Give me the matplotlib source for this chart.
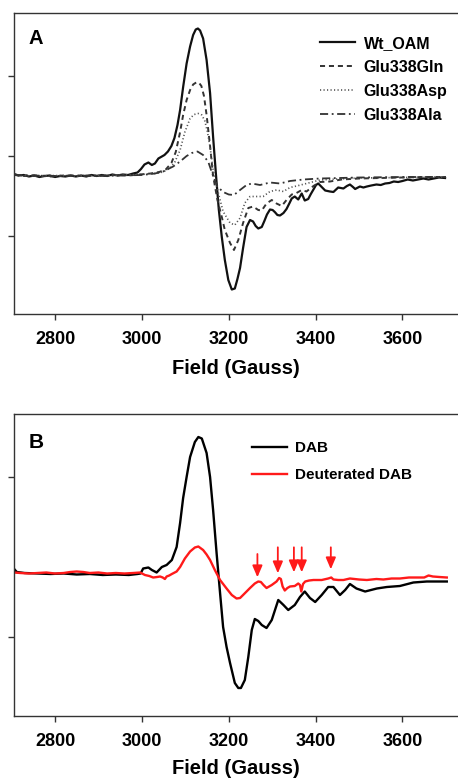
import numpy as np
import matplotlib
matplotlib.use("Agg")
import matplotlib.pyplot as plt

plt.rcParams['font.family'] = ['Liberation Sans', 'DejaVu Sans']
plt.rcParams['font.weight'] = 'bold'

# ---- panel A: (field in G, intensity in a.u.) ----
wt_oam = np.array([
    (2706, 2), (2716, 0.5), (2728, 1), (2740, -0.5), (2752, 0.5), (2764, -1), (2776, 0),
    (2788, 0.5), (2800, -1), (2812, 0), (2824, -0.5), (2836, 0.5), (2848, -0.5), (2860, 0.5),
    (2872, -0.5), (2884, 1), (2896, 0), (2908, 1), (2920, 0), (2932, 1.5), (2944, 0.5),
    (2956, 1.5), (2968, 1), (2980, 2.5), (2990, 3.5), (2998, 7), (3006, 11.5), (3015, 13.5),
    (3023, 11), (3030, 12.5), (3038, 17.5), (3046, 19.5), (3052, 21), (3060, 24.5), (3068, 30),
    (3075, 38), (3082, 51), (3088, 66), (3095, 89), (3103, 112.5), (3111, 129.5), (3118, 141),
    (3124, 146.5), (3129, 147.5), (3134, 145.5), (3141, 137.5), (3149, 116), (3157, 83),
    (3164, 39), (3171, -1), (3177, -33), (3184, -61), (3191, -84), (3199, -104), (3207, -113.5),
    (3214, -112.5), (3220, -103), (3226, -92), (3233, -72), (3241, -51), (3249, -44),
    (3256, -45.5), (3262, -50), (3268, -52.5), (3276, -51), (3282, -45), (3288, -38.5),
    (3295, -33.5), (3301, -34), (3306, -36), (3312, -39), (3318, -39.5), (3326, -37),
    (3333, -33), (3340, -27), (3345, -22.5), (3352, -20.5), (3360, -23.5), (3368, -17.5),
    (3375, -24.5), (3383, -23), (3389, -18), (3395, -13.5), (3401, -9), (3406, -7.5),
    (3414, -11), (3422, -14.5), (3433, -15.5), (3441, -16), (3452, -11.5), (3464, -12.5),
    (3472, -10), (3479, -8.5), (3486, -11), (3491, -13), (3502, -10.5), (3510, -11.5),
    (3518, -10.5), (3528, -9.5), (3540, -8.5), (3550, -9), (3560, -7.5), (3570, -7),
    (3580, -5.5), (3590, -6), (3600, -5), (3612, -3.5), (3624, -4.5), (3636, -3.5),
    (3648, -2.5), (3660, -3.5), (3672, -2.5), (3684, -1.5), (3698, -2)])

glu338gln = np.array([
    (2706, 1), (2730, 0), (2760, 0.5), (2790, -0.5), (2820, 0.5), (2850, 0), (2880, 0.5),
    (2910, 0), (2940, 1), (2970, 0.5), (2995, 1.5), (3020, 2.5), (3040, 4), (3055, 6.5),
    (3068, 13), (3078, 24), (3088, 44), (3095, 61), (3103, 76), (3111, 86), (3118, 91.5),
    (3125, 93.5), (3131, 93.5), (3137, 90), (3143, 80), (3149, 61), (3157, 30), (3164, 0),
    (3174, -24), (3184, -41), (3191, -54), (3203, -67), (3212, -74), (3222, -64), (3233, -47),
    (3245, -32), (3256, -30.5), (3268, -34), (3276, -34.5), (3287, -27.5), (3299, -24),
    (3310, -27.5), (3322, -30), (3333, -24), (3345, -18.5), (3356, -17), (3368, -14),
    (3379, -15.5), (3395, -10), (3410, -6), (3433, -5.5), (3460, -3.5), (3500, -2.5),
    (3550, -2), (3600, -1.5), (3650, -1), (3700, -1)])

glu338asp = np.array([
    (2706, 1), (2750, 0), (2800, 0.5), (2850, 0), (2900, 0.5), (2950, 1), (2995, 1.5),
    (3030, 2.5), (3049, 4), (3065, 8), (3076, 14), (3088, 26), (3099, 44), (3111, 57.5),
    (3120, 61.5), (3130, 62.5), (3138, 61), (3145, 55), (3151, 44), (3157, 29), (3164, 6),
    (3176, -17), (3187, -35.5), (3203, -47), (3214, -49), (3226, -42), (3237, -27),
    (3249, -20.5), (3264, -20.5), (3279, -20.5), (3295, -15.5), (3310, -14), (3326, -15.5),
    (3341, -11.5), (3356, -10), (3379, -7.5), (3410, -4), (3450, -3), (3500, -2),
    (3600, -1.5), (3700, -1)])

glu338ala = np.array([
    (2706, 1), (2750, 0.5), (2800, 0), (2850, 0.5), (2900, 0), (2950, 0.5), (3000, 1),
    (3030, 2.5), (3049, 4.5), (3072, 9.5), (3088, 14.5), (3103, 20), (3115, 23), (3128, 24.5),
    (3141, 21), (3153, 14), (3164, 0), (3174, -10.5), (3187, -16), (3200, -18.5), (3212, -19),
    (3226, -14), (3241, -9), (3253, -7.5), (3272, -9), (3295, -6.5), (3318, -7.5), (3341, -5),
    (3372, -3.5), (3410, -2.5), (3500, -1.5), (3600, -1), (3700, -1)])

# ---- panel B ----
dab = np.array([
    (2706, 4), (2712, 1), (2730, 0), (2760, -0.5), (2790, -1), (2820, -0.5), (2850, -1.5),
    (2880, -1), (2910, -2), (2940, -1.5), (2970, -2), (2990, -1), (2997, -0.5), (3003, 4.5),
    (3015, 5.5), (3023, 3), (3034, 0.5), (3046, 6), (3057, 8), (3069, 13), (3080, 26),
    (3088, 50), (3095, 75), (3103, 96), (3111, 116), (3122, 131), (3130, 136), (3138, 134.5),
    (3149, 120), (3157, 96), (3164, 63), (3172, 20), (3180, -20), (3187, -54), (3195, -74),
    (3203, -90), (3214, -110), (3222, -115), (3228, -115), (3237, -107), (3245, -84),
    (3253, -57), (3260, -46), (3268, -48), (3276, -52), (3287, -55), (3299, -47), (3314, -27),
    (3326, -32), (3337, -37), (3352, -32), (3364, -24), (3375, -18.5), (3387, -25), (3399, -29),
    (3414, -22), (3429, -14), (3441, -14), (3456, -22), (3468, -17), (3479, -11), (3494, -15.5),
    (3514, -18.5), (3541, -15.5), (3564, -14), (3594, -13), (3625, -9.5), (3656, -8.5),
    (3680, -8.5), (3702, -8.5)])

deut_dab = np.array([
    (2706, 0.5), (2720, 0), (2740, -0.5), (2760, 0), (2780, 0.5), (2800, -0.5), (2820, 0),
    (2835, 1), (2850, 1.5), (2865, 1), (2880, 0), (2900, 0.5), (2920, -0.5), (2940, 0),
    (2960, -0.5), (2980, 0), (2996, 0.5), (3007, -2), (3017, -3), (3026, -4.5), (3035, -4),
    (3042, -3.5), (3048, -4.5), (3053, -6), (3057, -3.5), (3063, -2.5), (3069, -1), (3080, 1.5),
    (3088, 6), (3099, 14.5), (3111, 21.5), (3122, 25.5), (3130, 26.5), (3141, 23), (3149, 18.5),
    (3157, 13), (3168, 3), (3180, -7), (3195, -15.5), (3207, -22), (3218, -25.5), (3226, -25),
    (3233, -22), (3241, -18.5), (3249, -15), (3260, -10.5), (3268, -8.5), (3274, -9),
    (3280, -12), (3287, -15), (3299, -12), (3310, -8.5), (3316, -5), (3320, -6), (3324, -13.5),
    (3329, -17.5), (3335, -15), (3341, -13.5), (3352, -13), (3360, -10.5), (3364, -12),
    (3367, -18.5), (3371, -11), (3376, -8.5), (3385, -7.5), (3395, -7), (3414, -7),
    (3429, -5.5), (3436, -4.5), (3441, -6.5), (3452, -7), (3464, -7), (3479, -5.5),
    (3500, -6.5), (3518, -7), (3540, -6), (3556, -6.5), (3575, -5.5), (3594, -5.5),
    (3615, -4.5), (3633, -4.5), (3650, -4.5), (3660, -2.5), (3670, -3.5), (3685, -4),
    (3702, -4.5)])

arrow_field = [3266, 3313, 3350, 3368, 3435]
arrow_tip = [-4.3, -0.3, 0.7, 0.7, 3.7]
arrow_top = [19, 25.7, 25.7, 25.7, 25.7]

xticks = [2800, 3000, 3200, 3400, 3600]


def style(ax, ylim, yticks, labelpad):
    ax.set_xlim(2705.6, 3727.8)
    ax.set_ylim(*ylim)
    ax.set_xticks(xticks)
    ax.set_yticks(yticks)
    ax.set_yticklabels([])
    ax.spines['right'].set_visible(False)
    for s in ['left', 'bottom', 'top']:
        ax.spines[s].set_color('#333333')
        ax.spines[s].set_linewidth(1.0)
    ax.tick_params(direction='out', length=4.5, width=1.0, color='#333333',
                   labelsize=13, pad=7.5)
    ax.set_xlabel('Field (Gauss)', fontsize=14.5, fontweight='bold', labelpad=labelpad)


fig = plt.figure(figsize=(4.58, 7.78), dpi=100)
axA = fig.add_axes([14/458, 1-314/778, 444/458, 301/778])
axB = fig.add_axes([14/458, 1-716/778, 444/458, 302/778])

axA.plot(wt_oam[:, 0], wt_oam[:, 1], color='#111111', lw=1.6, label='Wt_OAM')
axA.plot(glu338gln[:, 0], glu338gln[:, 1], color='#333333', lw=1.4,
         ls=(0, (2.6, 2.0)), label='Glu338Gln')
axA.plot(glu338asp[:, 0], glu338asp[:, 1], color='#555555', lw=1.2,
         ls=(0, (0.7, 1.4)), label='Glu338Asp')
axA.plot(glu338ala[:, 0], glu338ala[:, 1], color='#333333', lw=1.3,
         ls=(0, (4.5, 2.0, 1.0, 2.0)), label='Glu338Ala')
style(axA, (-138, 163), [100, 20, -60], 7.8)
axA.legend(loc='upper left', bbox_to_anchor=(0.69, 0.925), frameon=False,
           fontsize=11.5, handlelength=2.2, handletextpad=0.5, labelspacing=0.57,
           borderpad=0, borderaxespad=0)
axA.text(0.032, 0.914, 'A', transform=axA.transAxes, fontsize=14.5,
         fontweight='bold', ha='left', va='center')

axB.plot(dab[:, 0], dab[:, 1], color='black', lw=1.7, label='DAB')
axB.plot(deut_dab[:, 0], deut_dab[:, 1], color='#ff1a1a', lw=1.7, label='Deuterated DAB')
for g, tip, top in zip(arrow_field, arrow_tip, arrow_top):
    axB.annotate('', xy=(g, tip), xytext=(g, top),
                 arrowprops=dict(arrowstyle='-|>,head_length=0.7,head_width=0.3',
                                 color='#ff1a1a', lw=1.3, shrinkA=0, shrinkB=0))
style(axB, (-143, 159), [96, -64], 6.5)
axB.legend(loc='upper left', bbox_to_anchor=(0.535, 0.91), frameon=False,
           fontsize=11, handlelength=2.35, handletextpad=0.5, labelspacing=0.85,
           borderpad=0, borderaxespad=0)
axB.text(0.032, 0.906, 'B', transform=axB.transAxes, fontsize=15,
         fontweight='bold', ha='left', va='center')

fig.savefig('out.png', dpi=100)
